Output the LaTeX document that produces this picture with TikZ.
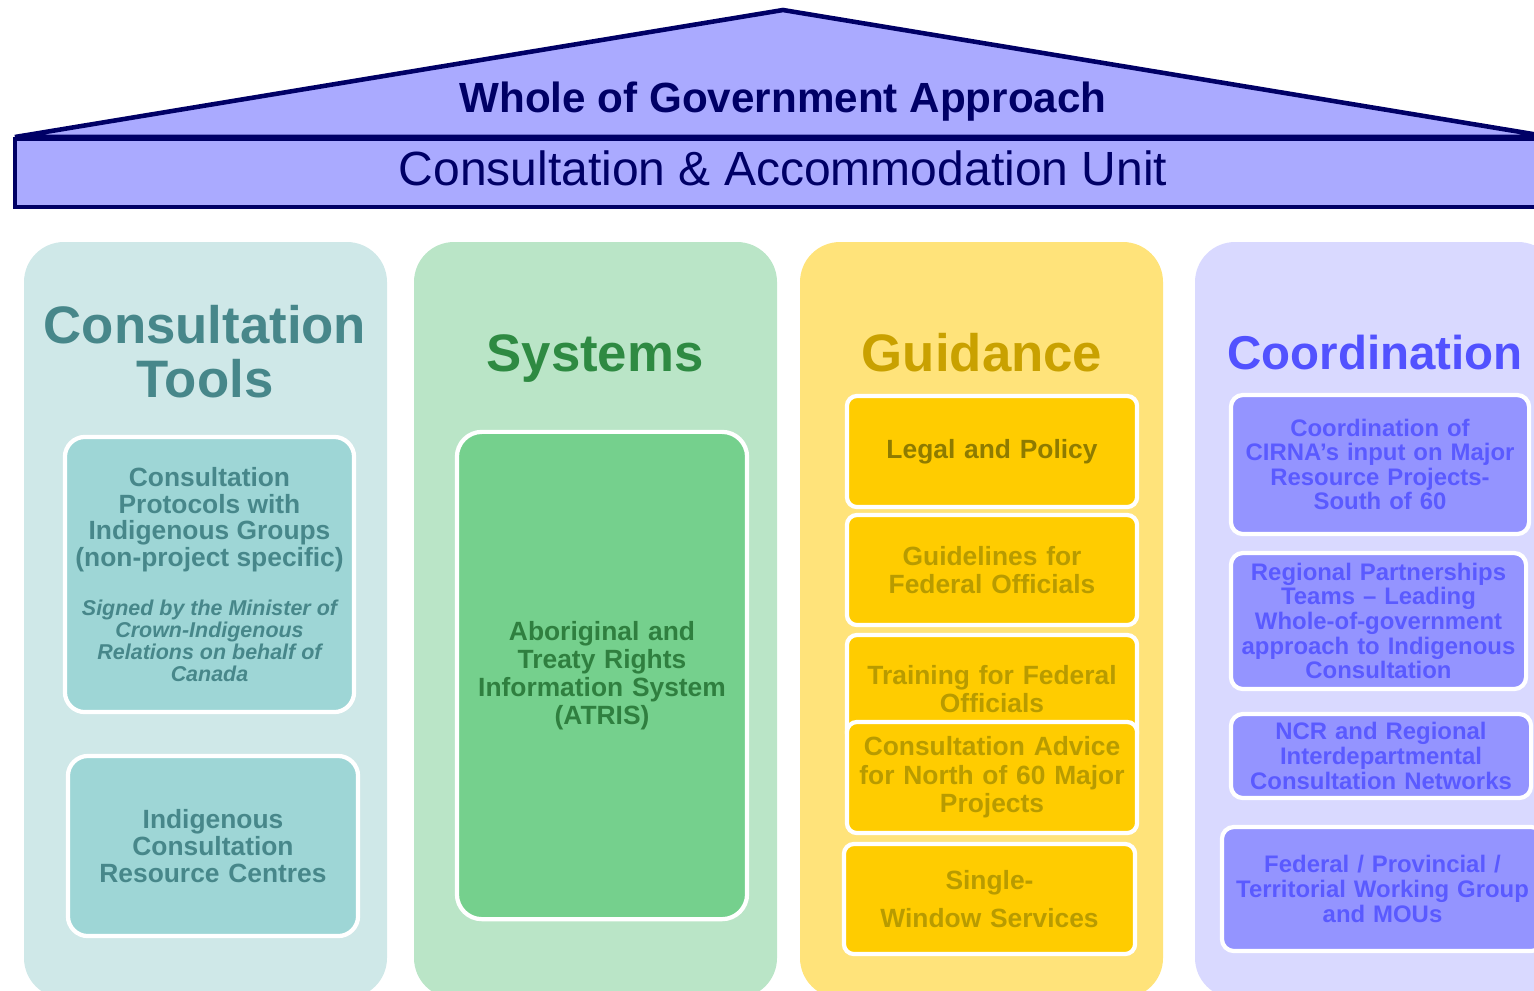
\documentclass[tikz,border=0pt]{standalone}
\usepackage{fontspec}
\setmainfont{Liberation Sans}

\definecolor{navy}{HTML}{000066}
\definecolor{roof}{HTML}{AAAAFF}
\definecolor{toolsbg}{HTML}{CFE8E8}
\definecolor{toolsbox}{HTML}{9ED6D6}
\definecolor{toolstext}{HTML}{47878A}
\definecolor{sysbg}{HTML}{BAE5C7}
\definecolor{sysbox}{HTML}{75D08D}
\definecolor{systitle}{HTML}{2E8A42}
\definecolor{systext}{HTML}{2F7F3F}
\definecolor{guidebg}{HTML}{FFE37A}
\definecolor{guidebox}{HTML}{FFCC00}
\definecolor{guidetitle}{HTML}{C9A100}
\definecolor{guidetext}{HTML}{B89B00}
\definecolor{guidedark}{HTML}{8E7B00}
\definecolor{coordbg}{HTML}{D9D9FF}
\definecolor{coordbox}{HTML}{9494FF}
\definecolor{coordtitle}{HTML}{5252FF}
\definecolor{coordtext}{HTML}{5A5AFF}

\begin{document}
\begin{tikzpicture}[x=0.01cm,y=-0.01cm,
  pillar/.style={rounded corners=0.4cm},
  pillartitle/.style={font=\fontsize{15}{15.4}\selectfont\bfseries, align=center, inner sep=0pt},
  item/.style={draw=white, line width=1.2pt, rounded corners=0.2cm, align=center,
    font=\bfseries, inner sep=0pt},
  ]
  \useasboundingbox (0,0) rectangle (1534,990);
  \clip (0,0) rectangle (1534,990);

  % roof
  \coordinate (eaveL) at (15,137);
  \coordinate (apex) at (783,10);
  \coordinate (eaveR) at (1551,137);
  \filldraw[fill=roof, draw=navy, line width=1.3pt, line join=miter] (eaveL) -- (apex) -- (eaveR) -- cycle;
  \filldraw[fill=roof, draw=navy, line width=1.4pt] (15,139) rectangle (1551,207);
  \node[anchor=base, text=navy, font=\fontsize{12}{14}\selectfont\bfseries] (wog) at (783,112) {Whole of Government Approach};
  \node[anchor=base, text=navy, font=\fontsize{13.65}{16}\selectfont] (cau) at (783,185) {Consultation \& Accommodation Unit};

  % pillars
  \fill[pillar, toolsbg] (24,242) rectangle (387,998);
  \fill[pillar, sysbg] (414,242) rectangle (777,998);
  \fill[pillar, guidebg] (800,242) rectangle (1163,998);
  \fill[pillar, coordbg] (1195,242) rectangle (1558,998);

  \node[pillartitle, text=toolstext] (tools) at (205,352) {Consultation\\Tools};
  \node[pillartitle, text=systitle, anchor=base] (systems) at (595,371) {Systems};
  \node[pillartitle, text=guidetitle, anchor=base] (guidance) at (982,371) {Guidance};
  \node[pillartitle, text=coordtitle, anchor=base, font=\fontsize{13.5}{14}\selectfont\bfseries] (coordination) at (1375,369) {Coordination};

  % consultation tools
  \node[item, fill=toolsbox, text=toolstext, minimum width=2.89cm, minimum height=2.75cm] (protocols) at (209.5,574.5)
    {\begin{minipage}{2.85cm}\centering
     \fontsize{7.5}{7.6}\selectfont Consultation\\Protocols with\\Indigenous Groups\\(non-project specific)\par
     \vspace{7.5pt}\fontsize{6.1}{6.3}\selectfont\itshape Signed by the Minister of\\Crown-Indigenous\\Relations on behalf of\\Canada\par
     \end{minipage}};
  \node[item, fill=toolsbox, text=toolstext, minimum width=2.90cm, minimum height=1.80cm, text width=2.85cm,
    font=\fontsize{7.5}{7.8}\selectfont\bfseries] (centres) at (213,846) {Indigenous\\Consultation\\Resource Centres};

  % systems
  \node[item, fill=sysbox, text=systext, minimum width=2.90cm, minimum height=4.87cm, text width=2.85cm, rounded corners=0.25cm,
    font=\fontsize{7.5}{7.9}\selectfont\bfseries] (atris) at (602,675.5) {Aboriginal and\\Treaty Rights\\Information System\\(ATRIS)};

  % guidance
  \tikzset{guide/.style={item, fill=guidebox, text=guidetext, minimum width=2.90cm, text width=2.85cm, rounded corners=0.1cm,
    font=\fontsize{7.5}{8.1}\selectfont\bfseries}}
  \node[guide, text=guidedark, minimum height=1.11cm] (legal) at (992,451.5) {Legal and Policy};
  \node[guide, minimum height=1.10cm] (guidelines) at (992,570) {Guidelines for\\Federal Officials};
  \node[guide, minimum height=1.08cm] (training) at (992,689) {Training for Federal\\Officials};
  \node[guide, minimum height=1.11cm] (advice) at (992,777.5) {Consultation Advice\\for North of 60 Major\\Projects};
  \node[guide, minimum height=1.10cm, minimum width=2.91cm] (window) at (989.5,899) {Single-\\[2.6pt]Window Services};

  % coordination
  \tikzset{coord/.style={item, fill=coordbox, text=coordtext, rounded corners=0.12cm, text width=2.9cm,
    font=\fontsize{6.8}{7}\selectfont\bfseries}}
  \node[coord, minimum width=2.98cm, minimum height=1.39cm] (cirna) at (1380,464.5) {Coordination of\\CIRNA’s input on Major\\Resource Projects-\\South of 60};
  \node[coord, minimum width=2.95cm, minimum height=1.36cm] (teams) at (1378.5,621) {Regional Partnerships\\Teams – Leading\\Whole-of-government\\approach to Indigenous\\Consultation};
  \node[coord, minimum width=3.00cm, minimum height=0.84cm] (networks) at (1381,756) {NCR and Regional\\Interdepartmental\\Consultation Networks};
  \node[coord, minimum width=3.21cm, minimum height=1.24cm, text width=3.1cm] (fpt) at (1382.5,889) {Federal / Provincial /\\Territorial Working Group\\and MOUs};
\end{tikzpicture}
\end{document}
